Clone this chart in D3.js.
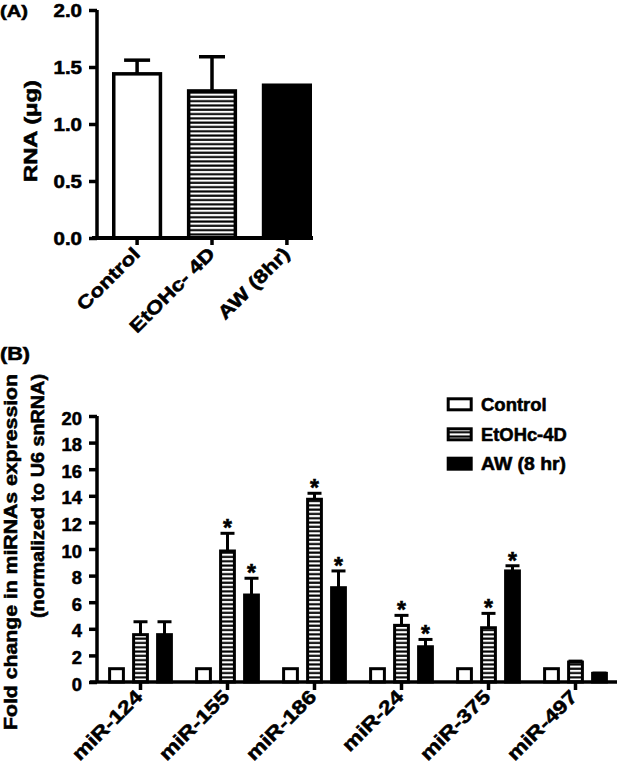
<!DOCTYPE html>
<html>
<head>
<meta charset="utf-8">
<script src="https://cdn.jsdelivr.net/npm/d3@7"></script>
<style>
html,body{margin:0;padding:0;background:#fff;}
text{font-family:"Liberation Sans",Arial,Helvetica,sans-serif;font-weight:bold;fill:#000;stroke:#000;stroke-width:0.55px;}
</style>
</head>
<body>
<svg id="chart" width="622" height="764"></svg>
<script>
// ---------- Data ----------
const aCategories = ["Control", "EtOHc- 4D", "AW (8hr)"];
const aValues = [1.44, 1.29, 1.34];
const aErrors = [0.12, 0.30, 0.0];
const aTicks = [0, 0.5, 1.0, 1.5, 2.0];

const bCategories = ["miR-124", "miR-155", "miR-186", "miR-24", "miR-375", "miR-497"];
const bSeries = ["Control", "EtOHc-4D", "AW (8 hr)"];
const bControl = [1.0, 1.0, 1.0, 1.0, 1.0, 1.0];
const bControlErr = [0, 0, 0, 0, 0, 0];
const bEtOH = [3.56, 9.85, 13.74, 4.26, 4.08, 1.50];
const bEtOHErr = [0.97, 1.33, 0.45, 0.75, 1.08, 0.07];
const bAW = [3.56, 6.54, 7.09, 2.65, 8.35, 0.65];
const bAWErr = [0.97, 1.26, 1.26, 0.55, 0.39, 0.02];
const bEtOHSig = [false, true, true, true, true, false];
const bAWSig = [false, true, true, true, true, false];
const bTicks = [0, 2, 4, 6, 8, 10, 12, 14, 16, 18, 20];

// ---------- Setup ----------
const svg = d3.select("#chart");
svg.append("rect").attr("width", 622).attr("height", 764).attr("fill", "#fff");

const defs = svg.append("defs");
const pat = defs.append("pattern").attr("id", "stripes")
  .attr("patternUnits", "userSpaceOnUse").attr("width", 10).attr("height", 4.3);
pat.append("rect").attr("width", 10).attr("height", 4.3).attr("fill", "#fff");
pat.append("rect").attr("y", 1.2).attr("width", 10).attr("height", 2.1).attr("fill", "#000");

function stretch(sel, k) {
  sel.each(function () {
    const l = this.getComputedTextLength();
    d3.select(this).attr("textLength", l * k).attr("lengthAdjust", "spacingAndGlyphs");
  });
}
const fills = ["#fff", "url(#stripes)", "#000"];

// ================= Panel A =================
const A = { left: 97, top: 10, bottom: 238 };
const yA = d3.scaleLinear().domain([0, 2]).range([A.bottom, A.top]);
const xA = d3.scaleBand().domain(aCategories).range([112, 312]).paddingInner(0.33).paddingOuter(0);

svg.append("text").attr("x", 0).attr("y", 17).attr("font-size", 17).text("(A)")
  .attr("textLength", 28).attr("lengthAdjust", "spacingAndGlyphs");

const gA = svg.append("g");
const swA = 3.5;
gA.selectAll("rect.bar").data(aCategories).join("rect")
  .attr("x", d => xA(d) + swA / 2)
  .attr("width", xA.bandwidth() - swA)
  .attr("y", (d, i) => yA(aValues[i]))
  .attr("height", (d, i) => yA(0) - yA(aValues[i]))
  .attr("fill", (d, i) => fills[i]).attr("stroke", "#000").attr("stroke-width", swA);
aCategories.forEach((c, i) => {
  if (aErrors[i] <= 0) return;
  const cx = xA(c) + xA.bandwidth() / 2;
  gA.append("line").attr("x1", cx).attr("x2", cx)
    .attr("y1", yA(aValues[i])).attr("y2", yA(aValues[i] + aErrors[i]))
    .attr("stroke", "#000").attr("stroke-width", 3.5);
  gA.append("line").attr("x1", cx - 13).attr("x2", cx + 13)
    .attr("y1", yA(aValues[i] + aErrors[i])).attr("y2", yA(aValues[i] + aErrors[i]))
    .attr("stroke", "#000").attr("stroke-width", 3.5);
});
const yAxA = gA.append("g").attr("transform", `translate(${A.left},0)`)
  .call(d3.axisLeft(yA).tickValues(aTicks).tickFormat(d3.format(".1f")).tickSize(8).tickPadding(7));
yAxA.select(".domain").attr("d", `M0,${A.top}V${A.bottom}`).attr("stroke-width", 3.5);
yAxA.selectAll(".tick line").attr("stroke-width", 3.5);
yAxA.selectAll(".tick text").attr("font-size", 17.5).attr("font-family", null).attr("dy", "0.38em").attr("x", -15)
  .attr("textLength", 28.5).attr("lengthAdjust", "spacingAndGlyphs");
const xAxA = gA.append("g").attr("transform", `translate(0,${A.bottom})`)
  .call(d3.axisBottom(xA).tickSize(7).tickFormat(""));
xAxA.select(".domain").attr("d", `M92,0H313`).attr("stroke-width", 4);
xAxA.selectAll(".tick line").attr("stroke-width", 3.5);
gA.selectAll("text.xlab").data(aCategories).join("text").attr("class", "xlab")
  .attr("font-size", 18.5).attr("text-anchor", "end")
  .attr("transform", d => `translate(${xA(d) + xA.bandwidth() / 2 + 4},${A.bottom + 17}) rotate(-45)`)
  .text(d => d).call(stretch, 1.22);
svg.append("text").attr("font-size", 19).attr("text-anchor", "middle")
  .attr("transform", `translate(37,131) rotate(-90)`).text("RNA (\u03BCg)")
  .attr("textLength", 102).attr("lengthAdjust", "spacingAndGlyphs");

// ================= Panel B =================
const B = { left: 97, top: 416, bottom: 682 };
const yB = d3.scaleLinear().domain([0, 20]).range([B.bottom, B.top]);
const xB = d3.scaleBand().domain(bCategories).range([97, 619]).padding(0);
const xInner = d3.scaleBand().domain(bSeries).range([-36, 36]).paddingInner(0.3).paddingOuter(0.15);
const vals = [bControl, bEtOH, bAW];
const errs = [bControlErr, bEtOHErr, bAWErr];
const sigs = [null, bEtOHSig, bAWSig];

svg.append("text").attr("x", 0).attr("y", 360).attr("font-size", 17.5).text("(B)")
  .attr("textLength", 30).attr("lengthAdjust", "spacingAndGlyphs");

const gB = svg.append("g");
const swB = 3;
bSeries.forEach((s, si) => {
  const grp = gB.append("g");
  grp.selectAll("rect").data(bCategories).join("rect")
    .attr("x", d => xB(d) + xB.bandwidth() / 2 + xInner(s) + swB / 2)
    .attr("width", xInner.bandwidth() - swB)
    .attr("y", (d, i) => yB(vals[si][i]))
    .attr("height", (d, i) => yB(0) - yB(vals[si][i]))
    .attr("fill", fills[si]).attr("stroke", "#000").attr("stroke-width", swB);
  bCategories.forEach((c, i) => {
    const cx = xB(c) + xB.bandwidth() / 2 + xInner(s) + xInner.bandwidth() / 2;
    const top = vals[si][i] + errs[si][i];
    if (errs[si][i] > 0) {
      grp.append("line").attr("x1", cx).attr("x2", cx)
        .attr("y1", yB(vals[si][i])).attr("y2", yB(top))
        .attr("stroke", "#000").attr("stroke-width", 3);
      grp.append("line").attr("x1", cx - 7).attr("x2", cx + 7)
        .attr("y1", yB(top)).attr("y2", yB(top))
        .attr("stroke", "#000").attr("stroke-width", 3);
    }
    if (sigs[si] && sigs[si][i]) {
      grp.append("text").attr("x", cx).attr("y", yB(top) + 3)
        .attr("text-anchor", "middle").attr("font-size", 23).text("*");
    }
  });
});
const yAxB = gB.append("g").attr("transform", `translate(${B.left},0)`)
  .call(d3.axisLeft(yB).tickValues(bTicks).tickSize(8).tickPadding(7));
yAxB.select(".domain").attr("d", `M0,${B.top}V${B.bottom}`).attr("stroke-width", 3.5);
yAxB.selectAll(".tick line").attr("stroke-width", 3.5);
yAxB.selectAll(".tick text").attr("font-size", 18).attr("font-family", null).attr("dy", "0.45em").attr("x", -15).call(stretch, 1.02);
const xAxB = gB.append("g").attr("transform", `translate(0,${B.bottom})`)
  .call(d3.axisBottom(xB).tickSize(8).tickFormat(""));
xAxB.select(".domain").attr("d", `M90,0H617`).attr("stroke-width", 3.5);
xAxB.selectAll(".tick line").attr("stroke-width", 3.5);
gB.selectAll("text.xlab").data(bCategories).join("text").attr("class", "xlab")
  .attr("font-size", 19).attr("text-anchor", "end")
  .attr("transform", d => `translate(${xB(d) + xB.bandwidth() / 2 + 3},${B.bottom + 16}) rotate(-45)`)
  .text(d => d).call(stretch, 1.22);
svg.append("text").attr("font-size", 19).attr("text-anchor", "end")
  .attr("transform", `translate(17,374) rotate(-90)`).text("Fold change in miRNAs expression")
  .attr("textLength", 356).attr("lengthAdjust", "spacingAndGlyphs");
svg.append("text").attr("font-size", 18).attr("text-anchor", "end")
  .attr("transform", `translate(44,374) rotate(-90)`).text("(normalized to U6 snRNA)")
  .attr("textLength", 244).attr("lengthAdjust", "spacingAndGlyphs");

// legend
const leg = svg.append("g");
const legY = [397.3, 427.3, 456.7];
const legLen = [65.7, 85.7, 85];
bSeries.forEach((s, i) => {
  leg.append("rect").attr("x", 446.7 + 1.5).attr("y", legY[i] + 1.5)
    .attr("width", 26 - 3).attr("height", 14 - 3)
    .attr("fill", fills[i]).attr("stroke", "#000").attr("stroke-width", 3);
  leg.append("text").attr("x", 481).attr("y", legY[i] + 13.5).attr("font-size", 17.5)
    .text(s).attr("textLength", legLen[i]).attr("lengthAdjust", "spacingAndGlyphs");
});
</script>
</body>
</html>
